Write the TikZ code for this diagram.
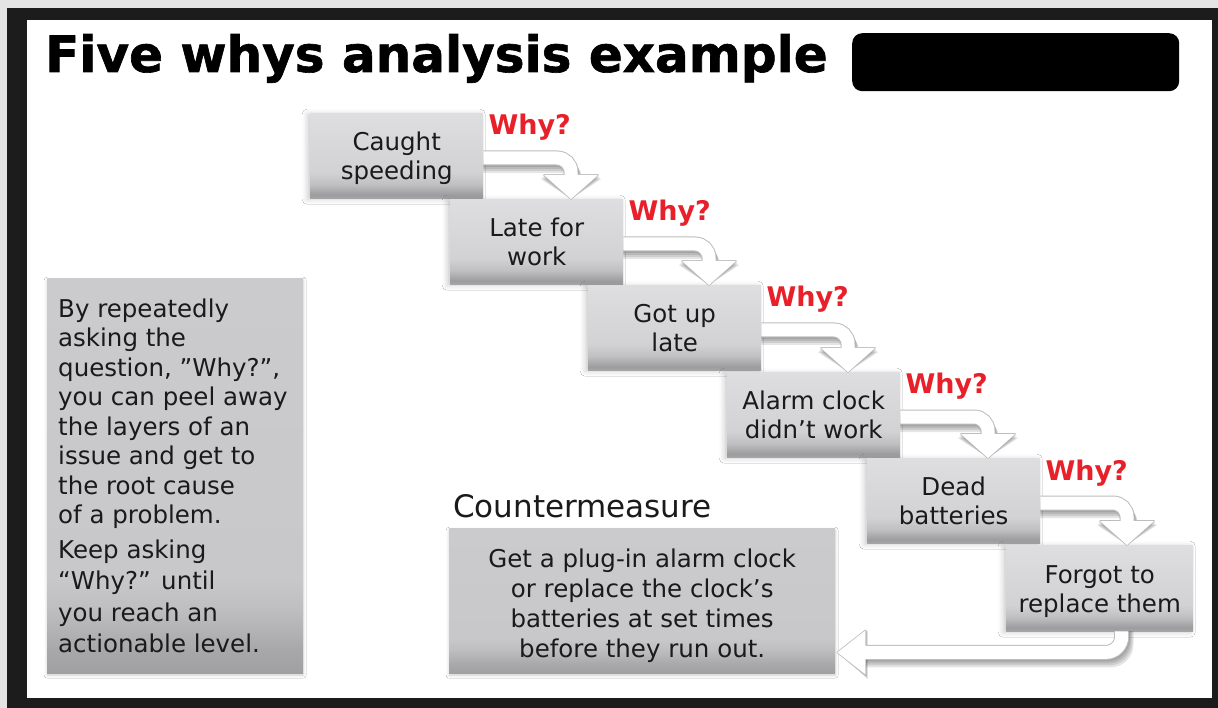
\documentclass[tikz,border=0pt]{standalone}
\usepackage{fontspec}
\setmainfont{DejaVu Sans}
\newfontfamily\titlefont{DejaVu Sans}[BoldFeatures={FakeBold=1.3}]
\usetikzlibrary{calc,shadows.blur}
\definecolor{framecol}{HTML}{1C1C1C}
\definecolor{outercol}{HTML}{E4E4E4}
\definecolor{whyred}{HTML}{E8202A}
\definecolor{txt}{HTML}{1A1A1A}
\definecolor{edgecol}{HTML}{BDBDBD}
\definecolor{sA}{HTML}{A6A6A8}
\definecolor{sB}{HTML}{9C9C9E}
\definecolor{sC}{HTML}{BFBFC1}
\definecolor{sD}{HTML}{D2D2D4}
\definecolor{sE}{HTML}{DEDEE0}
\definecolor{lA}{HTML}{A0A0A2}
\definecolor{lB}{HTML}{A8A8AA}
\definecolor{lC}{HTML}{BEBEC0}
\definecolor{lD}{HTML}{C8C8CA}
\definecolor{lE}{HTML}{CBCBCD}
\pgfdeclareverticalshading{stepshade}{100bp}{color(0bp)=(sA); color(25bp)=(sA); color(27bp)=(sB); color(33bp)=(sC); color(40bp)=(sD); color(75bp)=(sE); color(100bp)=(sE)}
\pgfdeclareverticalshading{sideshade}{100bp}{color(0bp)=(lA); color(25bp)=(lA); color(28bp)=(lB); color(33bp)=(lC); color(37bp)=(lD); color(75bp)=(lE); color(100bp)=(lE)}
\newcommand\tp{\rule{0pt}{25pt}}
\newcommand\bt{\rule[-6pt]{0pt}{6pt}}
\tikzset{
  stepbox/.style={anchor=north west, inner sep=0pt, minimum width=173pt, minimum height=85pt,
    shading=stepshade, align=center, text=txt, font=\fontsize{24.5}{29}\selectfont,
    blur shadow={shadow xshift=-3pt, shadow yshift=-1pt, shadow blur radius=5pt, shadow opacity=20}},
  sidebox/.style={anchor=north west, inner sep=0pt, shading=sideshade,
    blur shadow={shadow xshift=0pt, shadow yshift=-2pt, shadow blur radius=3pt, shadow opacity=20}},
  why/.style={anchor=base west, inner sep=0pt, text=whyred, font=\fontsize{27}{30}\selectfont\bfseries},
  bodytext/.style={anchor=north west, inner sep=0pt, align=left, text=txt},
  shaft/.style={line width=13pt, white, rounded corners=14pt},
  shaftedge/.style={line width=15pt, edgecol, rounded corners=14pt},
  headedge/.style={fill=edgecol, draw=edgecol, line width=1.6pt, line join=round},
  shadowline/.style={line width=14pt, black, opacity=0.1, rounded corners=14pt},
  shadowfill/.style={black, opacity=0.1}
}
\newcommand\whyarrow[2]{%
  \coordinate (s#1) at ($(#1.north east)+(0,45)$);
  \coordinate (t#1) at ($(#2.north west)+(121,0)$);
  \coordinate (m#1) at ($(t#1)+(0,-24)$);
  \foreach \q in {2,4,6,8}{
    \draw[shadowline] ($(s#1)+(0,\q)$) -| ($(m#1)+(0.5*\q,\q)$);
    \fill[shadowfill] ($(m#1)+(-27-0.4*\q,0.5*\q)$) -- (t#1) -- ($(m#1)+(27+0.4*\q,0.5*\q)$) -- cycle;
  }
  \draw[shaftedge] (s#1) -| ($(m#1)+(0,1)$);
  \filldraw[headedge] ($(m#1)+(-27,0)$) -- (t#1) -- ($(m#1)+(27,0)$) -- cycle;
  \draw[shaft] (s#1) -| ($(m#1)+(0,1)$);
  \fill[white] ($(m#1)+(-27,0)$) -- (t#1) -- ($(m#1)+(27,0)$) -- cycle;
}
\begin{document}
\begin{tikzpicture}[x=1pt,y=-1pt]
\useasboundingbox (0,0) rectangle (1218,708);
\fill[outercol] (0,0) rectangle (1218,708);
\fill[framecol] (7,8) rectangle (1218,708);
\fill[white] (27,20) rectangle (1212,698);

\node[anchor=base west, inner sep=0pt, text=black, font=\titlefont\fontsize{50}{60}\selectfont\bfseries] (title) at (45,72) {Five whys analysis example};
\node[anchor=north west, inner sep=0pt, fill=black, rounded corners=10pt, minimum width=327pt, minimum height=58pt] (redact) at (852,33) {};

\node[stepbox] (b1) at (310,113) {\tp Caught\\speeding\bt};
\node[stepbox] (b2) at (450,199) {\tp Late for\\work\bt};
\node[stepbox] (b3) at (588,285) {\tp Got up\\late\bt};
\node[stepbox] (b4) at (727,372) {\tp Alarm clock\\didn’t work\bt};
\node[stepbox] (b5) at (867,458) {\tp Dead\\batteries\bt};
\node[stepbox, minimum width=187pt, minimum height=86pt] (b6) at (1006,545) {\tp Forgot to\\replace them\bt};

\node[why] (w1) at ($(b1.north east)+(5,22)$) {Why?};
\node[why] (w2) at ($(b2.north east)+(5,22)$) {Why?};
\node[why] (w3) at ($(b3.north east)+(5,22)$) {Why?};
\node[why] (w4) at ($(b4.north east)+(5,22)$) {Why?};
\node[why] (w5) at ($(b5.north east)+(5,22)$) {Why?};

\node[sidebox, minimum width=256pt, minimum height=395pt] (lb) at (47,278) {};
\node[bodytext, font=\fontsize{24.5}{29.5}\selectfont] (lt1) at ($(lb.north west)+(11,19)$) {\rule{0pt}{20pt}By repeatedly\\asking the\\question, ”Why?”,\\you can peel away\\the layers of an\\issue and get to\\the root cause\\of a problem.};
\node[bodytext, font=\fontsize{24.5}{31.5}\selectfont] (lt2) at ($(lb.north west)+(11,260)$) {\rule{0pt}{20pt}Keep asking\\“Why?” until\\you reach an\\actionable level.};

\node[anchor=base west, inner sep=0pt, text=txt, font=\fontsize{31}{36}\selectfont] (cmt) at (453,517) {Countermeasure};
\node[sidebox, minimum width=386pt, minimum height=145pt, align=center, text=txt, font=\fontsize{24.5}{30}\selectfont] (cm) at (449,528) {\rule{0pt}{29pt}Get a plug-in alarm clock\\or replace the clock’s\\batteries at set times\\before they run out.\bt};

\whyarrow{b1}{b2}
\whyarrow{b2}{b3}
\whyarrow{b3}{b4}
\whyarrow{b4}{b5}
\whyarrow{b5}{b6}
\coordinate (s6) at ($(b6.south)+(22,0)$);
\coordinate (t6) at ($(cm.south east)+(2,-21)$);
\coordinate (m6) at ($(t6)+(28,0)$);
\foreach \q in {2,4,6,8}{
  \draw[shadowline, rounded corners=16pt] ($(s6)+(0.6*\q,0)$) |- ($(m6)+(0,\q)$);
  \fill[shadowfill] ($(m6)+(0.3*\q,-22)$) -- (t6) -- ($(m6)+(0.3*\q,22+0.6*\q)$) -- cycle;
}
\draw[shaftedge, rounded corners=16pt] (s6) |- ($(m6)+(-1,0)$);
\filldraw[headedge] ($(m6)+(0,-22)$) -- (t6) -- ($(m6)+(0,22)$) -- cycle;
\draw[shaft, rounded corners=16pt] (s6) |- ($(m6)+(-1,0)$);
\fill[white] ($(m6)+(0,-22)$) -- (t6) -- ($(m6)+(0,22)$) -- cycle;
\end{tikzpicture}
\end{document}
